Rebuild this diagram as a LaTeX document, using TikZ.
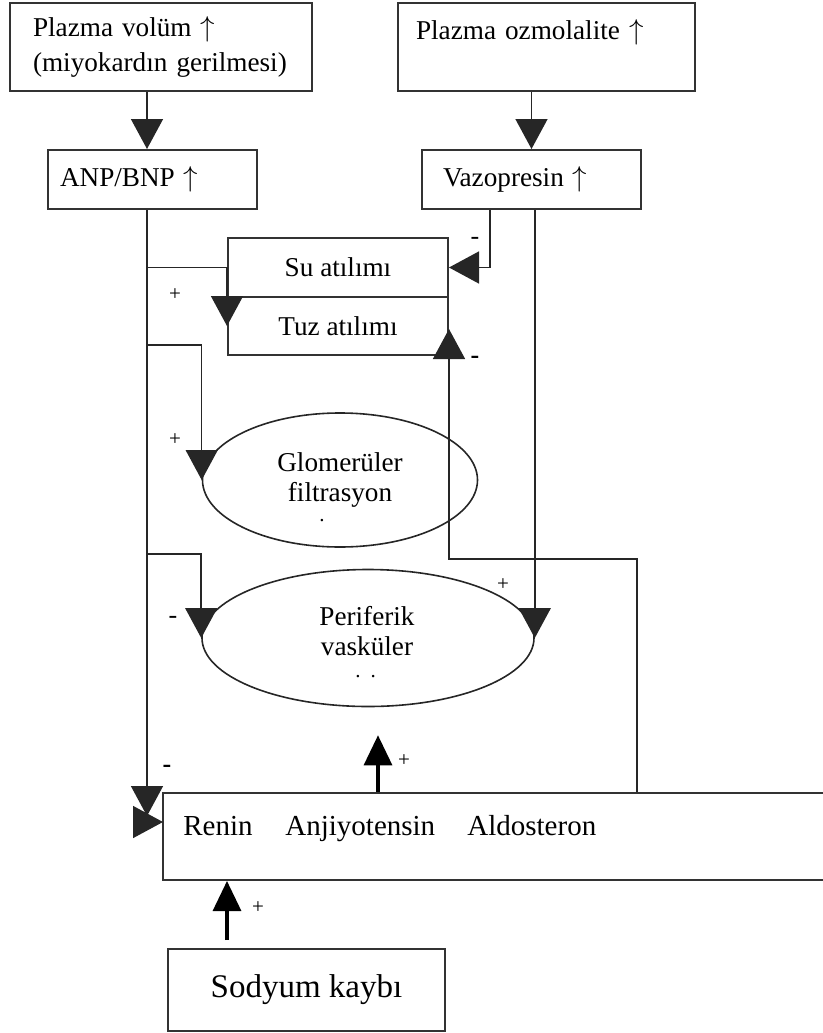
\documentclass[tikz,border=0pt]{standalone}
\usepackage{fontspec}
\setmainfont{Liberation Serif}
\usetikzlibrary{shapes.geometric, arrows.meta}

\begin{document}
\begin{tikzpicture}[
            x=0.5pt, y=-0.5pt,
            every node/.style={font=\fontsize{13.6}{17.5}\selectfont},
            box/.style={draw=black!80, line width=1pt, rectangle, inner sep=0pt},
            oval/.style={draw=black!85, line width=0.8pt, ellipse, inner sep=0pt, align=center, font=\fontsize{13.6}{15}\selectfont},
            word/.style={font=\fontsize{14.5}{17}\selectfont, inner sep=0pt, anchor=base west},
            arr/.style={draw=black!85, line width=0.75pt, -{Triangle[width=16pt,length=15pt]}},
            thickarr/.style={draw=black, line width=1.6pt, -{Triangle[width=14pt,length=15pt]}},
            plus/.style={font=\fontsize{10.5}{12}\selectfont, inner sep=0pt},
            minus/.style={font=\fontsize{13}{14}\selectfont, inner sep=0pt},
            boldminus/.style={font=\fontsize{13}{14}\selectfont\bfseries, inner sep=0pt}
            ]
            \useasboundingbox (0,0) rectangle (823,1033);

            % üst kutular
            \node[box, minimum width=151pt, minimum height=44pt, text width=128pt, inner xsep=11.5pt, align=left] (plazmavol) at (161,47) {Plazma volüm $\uparrow$\\(miyokardın gerilmesi)};
            \node[box, minimum width=148.5pt, minimum height=44pt, text width=130.5pt, inner xsep=9pt, align=left] (plazmaozm) at (546.5,47) {Plazma ozmolalite $\uparrow$\\\mbox{}};
            \node[box, minimum width=104.5pt, minimum height=29.5pt, text width=92.5pt, inner xsep=6pt, align=left] (anp) at (152.5,179.5) {ANP/BNP $\uparrow$};
            \node[box, minimum width=109.5pt, minimum height=29.5pt, text width=88.5pt, inner xsep=10.5pt, align=left] (vazo) at (531.5,179.5) {Vazopresin $\uparrow$};

            % su / tuz
            \node[box, minimum width=110pt, minimum height=29.5pt] (su) at (338,267.5) {Su atılımı};
            \node[box, minimum width=110pt, minimum height=29pt] (tuz) at (338,326) {Tuz atılımı};

            % elipsler
            \node[oval, minimum width=137.5pt, minimum height=67pt] (glom) at (340,480) {Glomerüler\\filtrasyon};
            \node[plus] (gdot) at (322,521) {.};
            \node[oval, minimum width=166pt, minimum height=68.5pt] (peri) at (368,638) {};
            \node[align=center, inner sep=0pt, font=\fontsize{13.6}{15}\selectfont] (peritxt) at (367,631) {Periferik\\vasküler};
            \node[plus] (pdot) at (365.5,677) {.\hspace{5pt}.};

            % alt kutular
            \node[box, minimum width=341pt, minimum height=43.5pt] (raa) at (504,836.5) {};
            \node[word] (renin) at (183,835) {Renin};
            \node[word] (anji) at (285,835) {Anjiyotensin};
            \node[word] (aldo) at (467,835) {Aldosteron};
            \node[box, minimum width=138.5pt, minimum height=41pt, font=\fontsize{16.5}{19}\selectfont] (sodyum) at (306.5,990) {Sodyum kaybı};

            % yardımcı noktalar
            \coordinate (xa) at (147,0);
            \coordinate (v1) at (490,0);
            \coordinate (xu) at (378,0);
            \coordinate (xs) at (227,0);
            \coordinate (j2) at (147,345);
            \coordinate (j3) at (147,554);
            \coordinate (k1) at (637,559);
            \coordinate (rin) at (163,822);

            % oklar
            \draw[arr] (plazmavol.south -| xa) -- (anp.north -| xa);
            \draw[arr] (plazmaozm.south -| vazo) -- (vazo.north);
            \draw[arr] (vazo.south -| v1) |- (su.east);
            \draw[arr] (vazo.south -| peri.east) -- (peri.east);
            \draw[arr, shorten >=3pt] (anp.south -| xa) -- (xa |- rin);
            \draw[arr] (xa |- rin) -- (rin);
            \draw[arr] (xa |- su.west) -- (su.west) -- (tuz.west);
            \draw[arr] (j2) -| (glom.west);
            \draw[arr] (j3) -| (peri.west);
            \draw[arr, shorten >=-13.5pt] (raa.north -| k1) -- (k1) -| (tuz.south east);
            \draw[thickarr, shorten >=14pt] (raa.north -| xu) -- (peri.south -| xu);
            \draw[thickarr, shorten <=4pt] (sodyum.north -| xs) -- (raa.south -| xs);

            % işaretler
            \node[plus] (s1) at (175,295) {+};
            \node[minus] (s2) at (475,241) {-};
            \node[boldminus] (s3) at (475,360) {-};
            \node[plus] (s4) at (175,440) {+};
            \node[minus] (s5) at (173,620) {-};
            \node[plus] (s6) at (503,585) {+};
            \node[boldminus] (s7) at (167,769) {-};
            \node[plus] (s8) at (404,761) {+};
            \node[plus] (s9) at (258,908) {+};

        \end{tikzpicture}
\end{document}
